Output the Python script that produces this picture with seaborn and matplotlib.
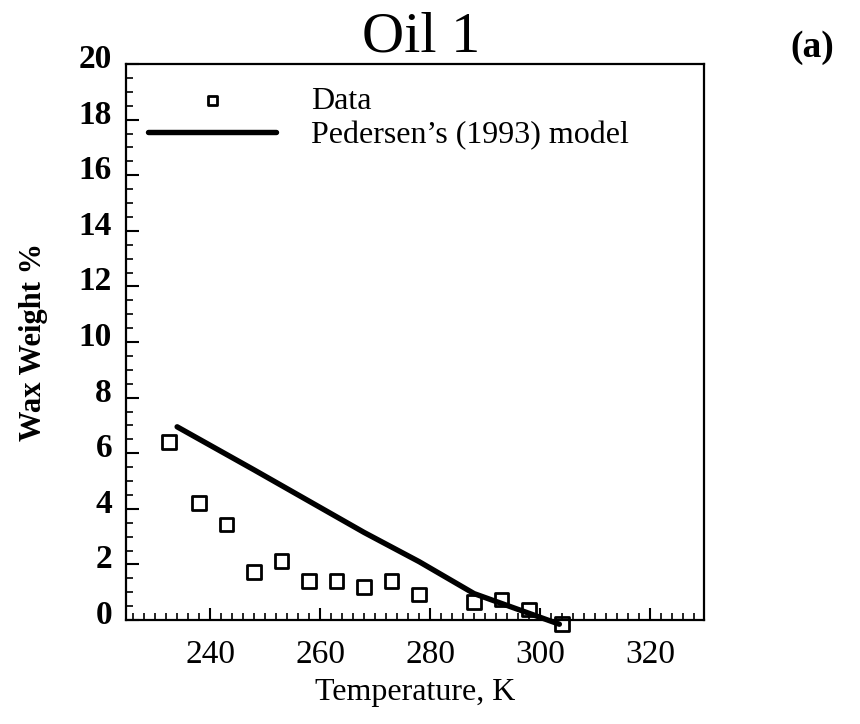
import matplotlib
matplotlib.use('Agg')
import matplotlib.pyplot as plt
import matplotlib.transforms as mtransforms
from matplotlib.ticker import MultipleLocator
import seaborn as sns
import pandas as pd

# Measured wax precipitation for Oil 1
temp_data = [232.5, 238, 243, 248, 253, 258, 263, 268, 273, 278, 288, 293, 298, 304]
wax_data = [6.41, 4.20, 3.44, 1.72, 2.13, 1.41, 1.41, 1.18, 1.40, 0.92, 0.64, 0.74, 0.38, -0.15]

# Pedersen's (1993) model curve
temp_model = [234, 248, 268, 278, 288, 303.5]
wax_model = [6.95, 5.40, 3.15, 2.10, 0.95, -0.15]

x_ticks = [240, 260, 280, 300, 320]
y_ticks = [0, 2, 4, 6, 8, 10, 12, 14, 16, 18, 20]

data_df = pd.DataFrame({'T': temp_data, 'wax': wax_data})
model_df = pd.DataFrame({'T': temp_model, 'wax': wax_model})

sns.set_style('ticks')
plt.rcParams['font.family'] = ['Liberation Serif', 'DejaVu Serif']
plt.rcParams['text.color'] = 'black'
plt.rcParams['axes.labelcolor'] = 'black'

fig = plt.figure(figsize=(8.6, 7.24), dpi=100)
ax = fig.add_axes([0.1465, 0.1436, 0.8186 - 0.1465, 0.9116 - 0.1436])

sns.scatterplot(data=data_df, x='T', y='wax', ax=ax, marker='s', s=95,
                facecolors='none', edgecolor='black', linewidth=2.0,
                label='Data', zorder=3, clip_on=False)
sns.lineplot(data=model_df, x='T', y='wax', ax=ax, color='black',
             linewidth=3.9, label="Pedersen\u2019s (1993) model", zorder=2,
             clip_on=False)

ax.set_xlim(224.7, 329.8)
ax.set_ylim(0, 20)
ax.set_xticks(x_ticks)
ax.set_yticks(y_ticks)
ax.xaxis.set_minor_locator(MultipleLocator(2))
ax.yaxis.set_minor_locator(MultipleLocator(0.5))
ax.tick_params(which='major', direction='in', length=9, width=1.5,
               top=False, right=False, labelsize=24, colors='black')
ax.tick_params(which='minor', direction='in', length=5, width=1.2,
               top=False, right=False, colors='black')
ax.tick_params(axis='x', pad=14)
ax.tick_params(axis='y', pad=10)
for lab in ax.get_yticklabels():
    lab.set_fontweight('bold')
    lab.set_transform(lab.get_transform() +
                      mtransforms.ScaledTranslation(0, 0.08, fig.dpi_scale_trans))
for side in ['left', 'right', 'top', 'bottom']:
    ax.spines[side].set_visible(True)
    ax.spines[side].set_linewidth(1.6)
    ax.spines[side].set_color('black')

ax.set_xlabel('Temperature, K', fontsize=23, labelpad=6)
ax.set_ylabel('Wax Weight %', fontsize=22, fontweight='bold', labelpad=22)

leg = ax.legend(loc='upper left', frameon=False, fontsize=23,
                handlelength=4.0, handletextpad=1.1, labelspacing=0.15,
                borderaxespad=0.2, borderpad=0.5, markerscale=0.7)

fig.text(0.49, 0.948, 'Oil 1', fontsize=42, ha='center', va='center')
fig.text(0.945, 0.935, '(a)', fontsize=27, fontweight='bold', ha='center', va='center')

fig.savefig('out.png', dpi=100)
